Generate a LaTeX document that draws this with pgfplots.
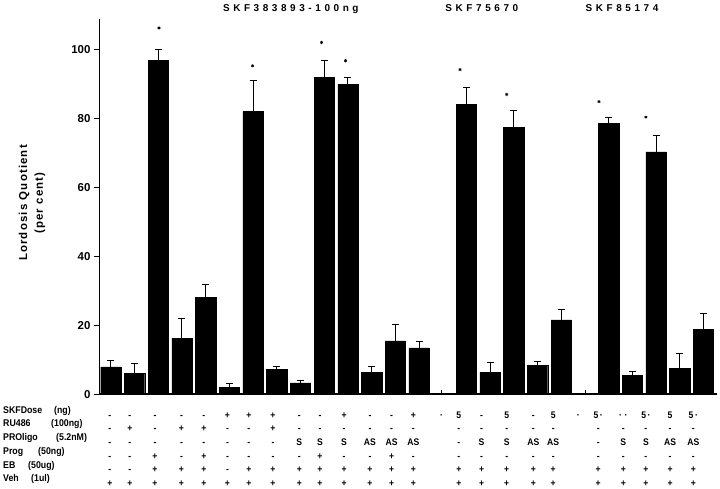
\documentclass[border=0pt]{standalone}
\usepackage{fontspec}
\setmainfont{Liberation Sans}
\newfontfamily\spaced[LetterSpace=36]{Liberation Sans}
\newfontfamily\spacedy[LetterSpace=10]{Liberation Sans}
\newfontfamily\cond[FakeStretch=0.9]{Liberation Sans}
\usepackage{pgfplots}
\pgfplotsset{compat=1.18}
\newcommand{\cl}[6]{\strut#1\\#2\\#3\\#4\\#5\\#6}
\pgfplotstableread{
x y e
0 8.0 1.9
1 6.1 2.8
2 96.9 3.1
3 16.3 5.8
4 28.1 3.9
5 2.1 1.0
6 82.2 8.8
7 7.2 0.8
8 3.3 0.8
9 92.1 4.8
10 90.1 1.9
11 6.3 1.8
12 15.5 4.8
13 13.5 1.9
15 84.3 4.7
16 6.4 2.9
17 77.5 4.8
18 8.5 0.9
19 21.6 2.9
21 78.6 1.8
22 5.6 0.9
23 70.4 4.8
24 7.6 4.2
25 18.9 4.7
}\bars
\begin{document}
\begin{tikzpicture}
\useasboundingbox (-99bp,-94.7bp) rectangle (621bp,394.3bp);
\begin{axis}[at={(0,0)}, anchor=south west, scale only axis,
  width=618bp, height=375.3bp,
  xmin=-0.5, xmax=25.57, ymin=0, ymax=109,
  axis lines*=left,
  y axis line style={line width=1bp},
  x axis line style={line width=1.8bp},
  ytick={0,20,40,60,80,100},
  tick align=outside, major tick length=5bp,
  y tick style={line width=1bp, black},
  x tick style={draw=none},
  xtick={-0.04,0.80,1.86,2.98,3.92,4.92,5.82,6.84,7.95,8.82,9.84,10.93,11.84,12.76,13.95,14.68,15.64,16.70,17.82,18.66,19.72,20.56,21.62,22.57,23.59,24.57},
  xticklabels={
   {\cl{-}{-}{-}{-}{-}{+}},
   {\cl{-}{+}{-}{-}{-}{+}},
   {\cl{-}{-}{-}{+}{+}{+}},
   {\cl{-}{+}{-}{-}{+}{+}},
   {\cl{-}{+}{-}{+}{+}{+}},
   {\cl{+}{-}{-}{-}{-}{+}},
   {\cl{+}{-}{-}{-}{+}{+}},
   {\cl{+}{+}{-}{-}{+}{+}},
   {\cl{-}{-}{S}{-}{+}{+}},
   {\cl{-}{-}{S}{+}{+}{+}},
   {\cl{+}{-}{S}{-}{+}{+}},
   {\cl{-}{-}{AS}{-}{+}{+}},
   {\cl{-}{-}{AS}{+}{+}{+}},
   {\cl{+}{-}{AS}{-}{+}{+}},
   {\cl{·}{}{}{}{}{}},
   {\cl{5}{-}{-}{-}{+}{+}},
   {\cl{-}{-}{S}{-}{+}{+}},
   {\cl{5}{-}{S}{-}{+}{+}},
   {\cl{-}{-}{AS}{-}{+}{+}},
   {\cl{5}{-}{AS}{-}{+}{+}},
   {\cl{·}{}{}{}{}{}},
   {\cl{5\,·}{-}{-}{-}{+}{+}},
   {\cl{·\;·}{-}{S}{-}{+}{+}},
   {\cl{5\,·}{-}{S}{-}{+}{+}},
   {\cl{5}{-}{AS}{-}{+}{+}},
   {\cl{5\,·}{-}{AS}{-}{+}{+}}},
  xticklabel style={anchor=north, inner sep=0pt, yshift=-9.0bp, align=center,
    font=\fontsize{9.6}{13.7}\cond\bfseries},
  yticklabel style={font=\fontsize{11.5}{13}\selectfont\bfseries},
  /pgf/number format/assume math mode=true,
  clip=false]
\addplot[ybar, bar width=20.3bp, fill=black, draw=black,
  error bars/.cd, y dir=plus, y explicit,
  error bar style={line width=1bp, black},
  error mark options={rotate=90, mark size=3.5bp, line width=1bp, black}]
  table[x=x, y=y, y error=e] {\bars};
\addplot[black, line width=0.8bp] coordinates {(13.95,0) (13.95,1.3)};
\addplot[black, line width=0.8bp] coordinates {(20.0,0) (20.0,1.3)};
\addplot[only marks, mark=asterisk, mark size=1.6bp, line width=0.7bp, black]
  coordinates {(2.03,106.4) (5.98,95.4) (8.89,102.2) (9.90,96.9)
               (14.73,94.3) (16.70,87.1) (20.59,85) (22.57,80.5)};
\node[font=\fontsize{10}{12}\spaced\bfseries] at (axis cs:7.59,112) {SKF383893-100ng};
\node[font=\fontsize{10}{12}\spaced\bfseries] at (axis cs:15.65,112.3) {SKF75670};
\node[font=\fontsize{10}{12}\spaced\bfseries] at (axis cs:21.56,112.3) {SKF85174};
\end{axis}
\node[rotate=90, font=\fontsize{11.5}{13}\spacedy\bfseries] at (-75bp,191.3bp) {Lordosis Quotient};
\node[rotate=90, font=\fontsize{11.5}{13}\spacedy\bfseries] at (-59bp,191.3bp) {(per cent)};
\begin{scope}[every node/.style={anchor=base west, inner sep=0pt, font=\fontsize{9.8}{11}\cond\bfseries}]
\node at (-96bp,-18.9bp) {SKFDose}; \node at (-45bp,-18.9bp) {(ng)};
\node at (-96bp,-32.6bp) {RU486}; \node at (-48bp,-32.6bp) {(100ng)};
\node at (-96bp,-46.3bp) {PROligo}; \node at (-43bp,-46.3bp) {(5.2nM)};
\node at (-96bp,-60.0bp) {Prog}; \node at (-61bp,-60.0bp) {(50ng)};
\node at (-96bp,-73.7bp) {EB}; \node at (-71bp,-73.7bp) {(50ug)};
\node at (-96bp,-87.4bp) {Veh}; \node at (-68bp,-87.4bp) {(1ul)};
\end{scope}
\end{tikzpicture}
\end{document}
